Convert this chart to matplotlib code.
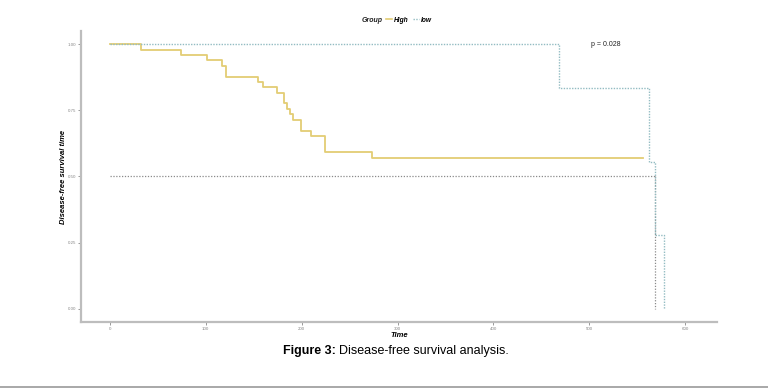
import matplotlib
matplotlib.use('Agg')
import matplotlib.pyplot as plt
from matplotlib.lines import Line2D

plt.rcParams['font.family'] = ['Liberation Sans', 'DejaVu Sans']

# Kaplan-Meier steps
high_time = [0, 32.5, 74, 101, 116.5, 121, 154, 160, 174, 182, 184.5, 187.7,
             191.5, 199, 209.6, 224.8, 273.4, 556]
high_surv = [1.0, 0.980, 0.959, 0.939, 0.918, 0.878, 0.857, 0.837, 0.816, 0.776,
             0.755, 0.735, 0.714, 0.673, 0.653, 0.592, 0.571, 0.571]

low_time = [0, 468, 562, 568, 578]
low_surv = [1.0, 0.833, 0.556, 0.278, 0.0]

median_low = 568
p_label = 'p = 0.028'
x_ticks = [0, 100, 200, 300, 400, 500, 600]
y_ticks = [0.0, 0.25, 0.50, 0.75, 1.00]
y_tick_labels = ['0.00', '0.25', '0.50', '0.75', '1.00']

high_color = '#E3CD74'
low_color = '#93BCC2'
axis_gray = '#BDBDBD'

W, H = 768, 388
fig = plt.figure(figsize=(W / 100, H / 100), dpi=100)
ax = fig.add_axes([81 / W, 1 - 322 / H, (717 - 81) / W, (322 - 31) / H])

# median survival line (horizontal then vertical)
ax.plot([0, median_low], [0.5, 0.5], color='#8A8A8A', lw=0.9, ls=(0, (1, 1.3)))
ax.plot([median_low, median_low], [0.5, 0.0], color='#8A8A8A', lw=0.9, ls=(0, (1, 1.3)))

ax.step(high_time, high_surv, where='post', color=high_color, lw=1.3)
ax.step(low_time + [low_time[-1]], low_surv + [low_surv[-1]], where='post',
        color=low_color, lw=1.0, ls=(0, (1, 1.0)))

ax.text(502, 1.00, p_label, fontsize=5, va='center', ha='left', color='#222222')

ax.set_xlim(-30, 633)
ax.set_ylim(-0.05, 1.05)
ax.set_xticks(x_ticks)
ax.set_yticks(y_ticks)
ax.set_yticklabels(y_tick_labels)
ax.tick_params(labelsize=3.2, colors='#888888', length=2, width=0.6, pad=1.5)
for side in ['top', 'right']:
    ax.spines[side].set_visible(False)
for side in ['left', 'bottom']:
    ax.spines[side].set_color(axis_gray)
    ax.spines[side].set_linewidth(1.6)

ax.set_xlabel('Time', fontsize=5.5, fontweight='bold', fontstyle='italic', labelpad=0.5)
ax.set_ylabel('Disease-free survival time', fontsize=5.5, fontweight='bold',
              fontstyle='italic')
ax.yaxis.set_label_coords((67 - 81) / (717 - 81), 0.5)

# legend on top
fig.text(372 / W, 1 - 20 / H, 'Group', fontsize=5, fontweight='bold',
         fontstyle='italic', ha='center', va='center', color='#222222')
handles = [Line2D([], [], color=high_color, lw=1.2),
           Line2D([], [], color=low_color, lw=1.0, ls=(0, (1, 1.0)))]
fig.legend(handles, ['High', 'low'], ncol=2, frameon=False, loc='center left',
           bbox_to_anchor=(386 / W, 1 - 20 / H), borderpad=0, borderaxespad=0,
           prop={'size': 4.8, 'weight': 'bold', 'style': 'italic'},
           handlelength=0.9, handletextpad=0.35, columnspacing=0.6)

# caption
cap_y = 1 - 351 / H
t1 = fig.text(283 / W, cap_y, 'Figure 3:', fontsize=9, fontweight='bold', ha='left', va='center')
fig.canvas.draw()
bb = t1.get_window_extent()
fig.text(bb.x1 / W + 3 / W, cap_y, 'Disease-free survival analysis.', fontsize=9,
         ha='left', va='center')

# separator line at the bottom
fig.add_artist(Line2D([0, 1], [1.5 / H, 1.5 / H], color='#999999', lw=1.2))

fig.savefig('out.png', dpi=100)
